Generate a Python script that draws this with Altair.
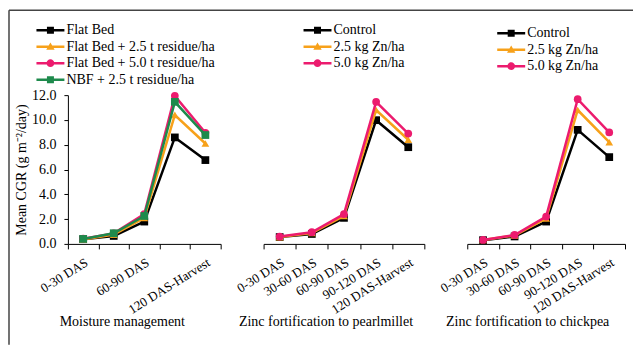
import altair as alt
import pandas as pd

categories = ["0-30 DAS", "30-60 DAS", "60-90 DAS", "90-120 DAS", "120 DAS-Harvest"]

# Panel 1: Moisture management
moisture_series = ["Flat Bed", "Flat Bed + 2.5 t residue/ha",
                   "Flat Bed + 5.0 t residue/ha", "NBF + 2.5 t residue/ha"]
mm_flat_bed = [0.38, 0.64, 1.80, 8.59, 6.76]
mm_fb_25 = [0.35, 0.75, 2.10, 10.40, 8.10]
mm_fb_50 = [0.42, 0.85, 2.40, 11.94, 8.96]
mm_nbf_25 = [0.40, 0.86, 2.25, 11.46, 8.78]

# Panel 2 & 3: Zinc fortification
zinc_series = ["Control", "2.5 kg Zn/ha", "5.0 kg Zn/ha"]
pm_control = [0.55, 0.80, 2.10, 9.98, 7.80]
pm_zn25 = [0.55, 0.88, 2.25, 10.80, 8.40]
pm_zn50 = [0.59, 0.94, 2.40, 11.46, 8.90]
cp_control = [0.30, 0.60, 1.80, 9.20, 7.00]
cp_zn25 = [0.32, 0.68, 2.05, 10.80, 8.20]
cp_zn50 = [0.32, 0.72, 2.20, 11.67, 8.99]

BLACK = "#000000"
ORANGE = "#F7A11A"
PINK = "#EC1B6E"
GREEN = "#1E8A4C"

LINE = "M-4,-0.36H4V0.36H-4Z"
P_SQ = LINE + "M-1,-1H1V1H-1Z"
P_TRI = LINE + "M0,-1.2L1.2,0.9L-1.2,0.9Z"
P_CIR = LINE + "M-1.1,0A1.1,1.1 0 1,1 1.1,0A1.1,1.1 0 1,1 -1.1,0Z"

FONT = "Liberation Serif"


def make_df(series_names, values_lists):
    rows = []
    for name, vals in zip(series_names, values_lists):
        for c, v in zip(categories, vals):
            rows.append({"cat": c, "series": name, "value": v})
    return pd.DataFrame(rows)


def panel(df, series_names, colors, shapes, paths, title, title_x, width,
          legend_x, legend_y, show_y, label_expr=None, extra=()):
    xaxis_kwargs = dict(
        title=title, labelAngle=-32, labelAlign="right", labelBaseline="top",
        labelPadding=7, tickBand="extent", tickSize=5, tickColor="black",
        domainColor="black", labelFont=FONT, labelFontSize=13, labelColor="black",
        titleFont=FONT, titleFontSize=14, titleFontWeight="normal", titleColor="black",
        titleX=title_x, titleY=78, titleBaseline="middle", titleAlign="center",
        labelOverlap=False, grid=False,
    )
    if label_expr:
        xaxis_kwargs["labelExpr"] = label_expr
    X = alt.X("cat:N", sort=categories,
              scale=alt.Scale(type="band", paddingInner=0, paddingOuter=0),
              axis=alt.Axis(**xaxis_kwargs), bandPosition=0.5)
    if show_y:
        yaxis = alt.Axis(values=[0, 2, 4, 6, 8, 10, 12], format=".1f", tickSize=4,
                         labelPadding=8, domainColor="black", tickColor="black",
                         labelFont=FONT, labelFontSize=14, labelColor="black",
                         title="Mean CGR (g m⁻²/day)", titleFont=FONT, titleFontSize=14,
                         titleFontWeight="normal", titleColor="black",
                         titleX=-46, titleY=74.5, titleAngle=270,
                         titleAlign="center", titleBaseline="middle", grid=False)
        Y = alt.Y("value:Q", scale=alt.Scale(domain=[0, 12], nice=False), axis=yaxis)
    else:
        Y = alt.Y("value:Q", scale=alt.Scale(domain=[0, 12], nice=False), axis=None)

    layers = list(extra)
    for name, col, shp in zip(series_names, colors, shapes):
        layers.append(
            alt.Chart(df).transform_filter(alt.datum.series == name)
            .mark_line(color=col, strokeWidth=2.5,
                       point=alt.OverlayMarkDef(shape=shp, filled=True, size=60,
                                                color=col, opacity=1))
            .encode(x=X, y=Y)
        )
    leg = alt.Legend(orient="none", legendX=legend_x, legendY=legend_y, title=None,
                     symbolSize=49, symbolStrokeWidth=0, labelOffset=9,
                     rowPadding=2.5, padding=0, labelFont=FONT, labelFontSize=14,
                     labelColor="black", labelLimit=400, symbolOpacity=1)
    layers.append(
        alt.Chart(df).mark_point(opacity=0, filled=True).encode(
            x=X, y=Y,
            color=alt.Color("series:N", sort=series_names,
                            scale=alt.Scale(domain=series_names, range=colors), legend=leg),
            shape=alt.Shape("series:N", sort=series_names,
                            scale=alt.Scale(domain=series_names, range=paths), legend=leg),
        )
    )
    return alt.layer(*layers).properties(width=width, height=149)


one = pd.DataFrame({"a": [0]})
frame_v = alt.Chart(one).mark_rule(color="#444444", strokeWidth=1.5).encode(
    x=alt.value(-59), y=alt.value(-85), y2=alt.value(250))
frame_h = alt.Chart(one).mark_rule(color="#444444", strokeWidth=1.5).encode(
    x=alt.value(-59), x2=alt.value(566), y=alt.value(-85))

df1 = make_df(moisture_series, [mm_flat_bed, mm_fb_25, mm_fb_50, mm_nbf_25])
df2 = make_df(zinc_series, [pm_control, pm_zn25, pm_zn50])
df3 = make_df(zinc_series, [cp_control, cp_zn25, cp_zn50])

p1 = panel(df1, moisture_series, [BLACK, ORANGE, PINK, GREEN],
           ["square", "triangle-up", "circle", "square"], [P_SQ, P_TRI, P_CIR, P_SQ],
           "Moisture management", 54, 153, -24.5, -72, True,
           label_expr="datum.value == '30-60 DAS' || datum.value == '90-120 DAS' ? '' : datum.label",
           extra=(frame_v, frame_h))
p2 = panel(df2, zinc_series, [BLACK, ORANGE, PINK],
           ["square", "triangle-up", "circle"], [P_SQ, P_TRI, P_CIR],
           "Zinc fortification to pearlmillet", 62, 161, 47, -72, False)
p3 = panel(df3, zinc_series, [BLACK, ORANGE, PINK],
           ["square", "triangle-up", "circle"], [P_SQ, P_TRI, P_CIR],
           "Zinc fortification to chickpea", 60, 158, 37, -69, False)

chart = alt.hconcat(p1, p2, p3, spacing=43, bounds="flush").resolve_scale(
    color="independent", shape="independent").properties(
    padding={"left": 0, "top": 1, "right": 0, "bottom": 0},
    background="white",
).configure(font=FONT).configure_view(strokeOpacity=0)

chart.save("out.html", embed_options={"renderer": "svg", "actions": False})
